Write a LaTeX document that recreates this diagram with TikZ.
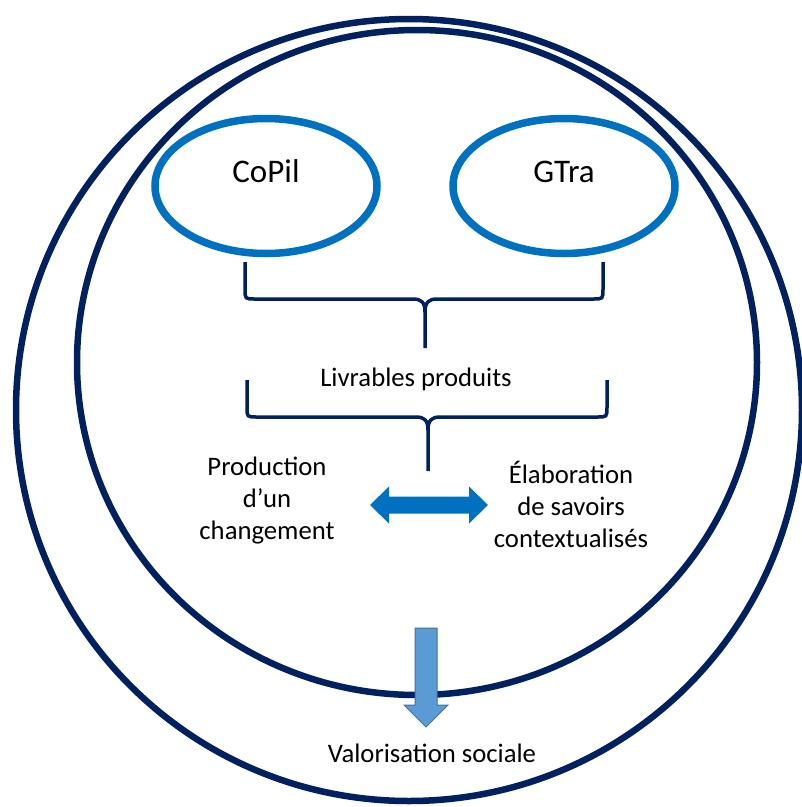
\documentclass[tikz,border=0pt]{standalone}
\usepackage{fontspec}
\setmainfont{Carlito}
\usepackage{tikz}
\usetikzlibrary{shapes.geometric}
\definecolor{navy}{HTML}{002060}
\definecolor{midblue}{HTML}{0070C0}
\definecolor{lightblue}{HTML}{5B9BD5}
\definecolor{edgeblue}{HTML}{41719C}
\tikzset{
  ring/.style={draw=navy, line width=6.5pt},
  group/.style={ellipse, draw=midblue, line width=7.5pt, minimum width=222pt, minimum height=135pt,
    text height=23pt, text depth=31pt, font=\fontsize{33}{38}\selectfont},
  brace/.style={draw=navy, line width=3.5pt},
  label/.style={align=center, font=\fontsize{26.7}{32}\selectfont},
}

\begin{document}
\begin{tikzpicture}[x=1pt, y=-1pt]
  \useasboundingbox (0,0) rectangle (802,807);
  \clip (0,0) rectangle (802,807);

  % Circles
  \draw[ring] (409,410) ellipse [x radius=393, y radius=391];
  \draw[ring] (417,362.5) ellipse [x radius=340, y radius=332.5];

  % Groups
  \node[group] (copil) at (266,186) {CoPil};
  \node[group] (gtra) at (564,186) {GTra};

  % Braces
  \draw[brace] (245,262) -- (245,289) .. controls (245,299) .. (255,299) -- (413,299)
    .. controls (421,299) and (425,302) .. (425,312) -- (425,348);
  \draw[brace] (603,262) -- (603,289) .. controls (603,299) .. (593,299) -- (437,299)
    .. controls (429,299) and (425,302) .. (425,312);
  \draw[brace] (247,380) -- (247,407) .. controls (247,417) .. (257,417) -- (416,417)
    .. controls (424,417) and (428,420) .. (428,430) -- (428,471);
  \draw[brace] (607,380) -- (607,407) .. controls (607,417) .. (597,417) -- (440,417)
    .. controls (432,417) and (428,420) .. (428,430);

  % Texts
  \node[label, anchor=base] (livrables) at (416,386) {Livrables produits};
  \node[label] (production) at (267,501) {Production\\d’un\\changement};
  \node[label] (elaboration) at (571,504) {Élaboration\\de savoirs\\contextualisés};
  \node[label, anchor=base] (valorisation) at (432,762) {Valorisation sociale};

  % Arrows
  \fill[midblue] (370,505) -- (389,486.5) -- (389,496.5) -- (469,496.5) -- (469,486.5)
    -- (488,505) -- (469,523.5) -- (469,513.5) -- (389,513.5) -- (389,523.5) -- cycle;
  \filldraw[fill=lightblue, draw=edgeblue, line width=1pt] (415,628) -- (437,628) -- (437,705)
    -- (448,705) -- (426,727) -- (404,705) -- (415,705) -- cycle;

\end{tikzpicture}
\end{document}
